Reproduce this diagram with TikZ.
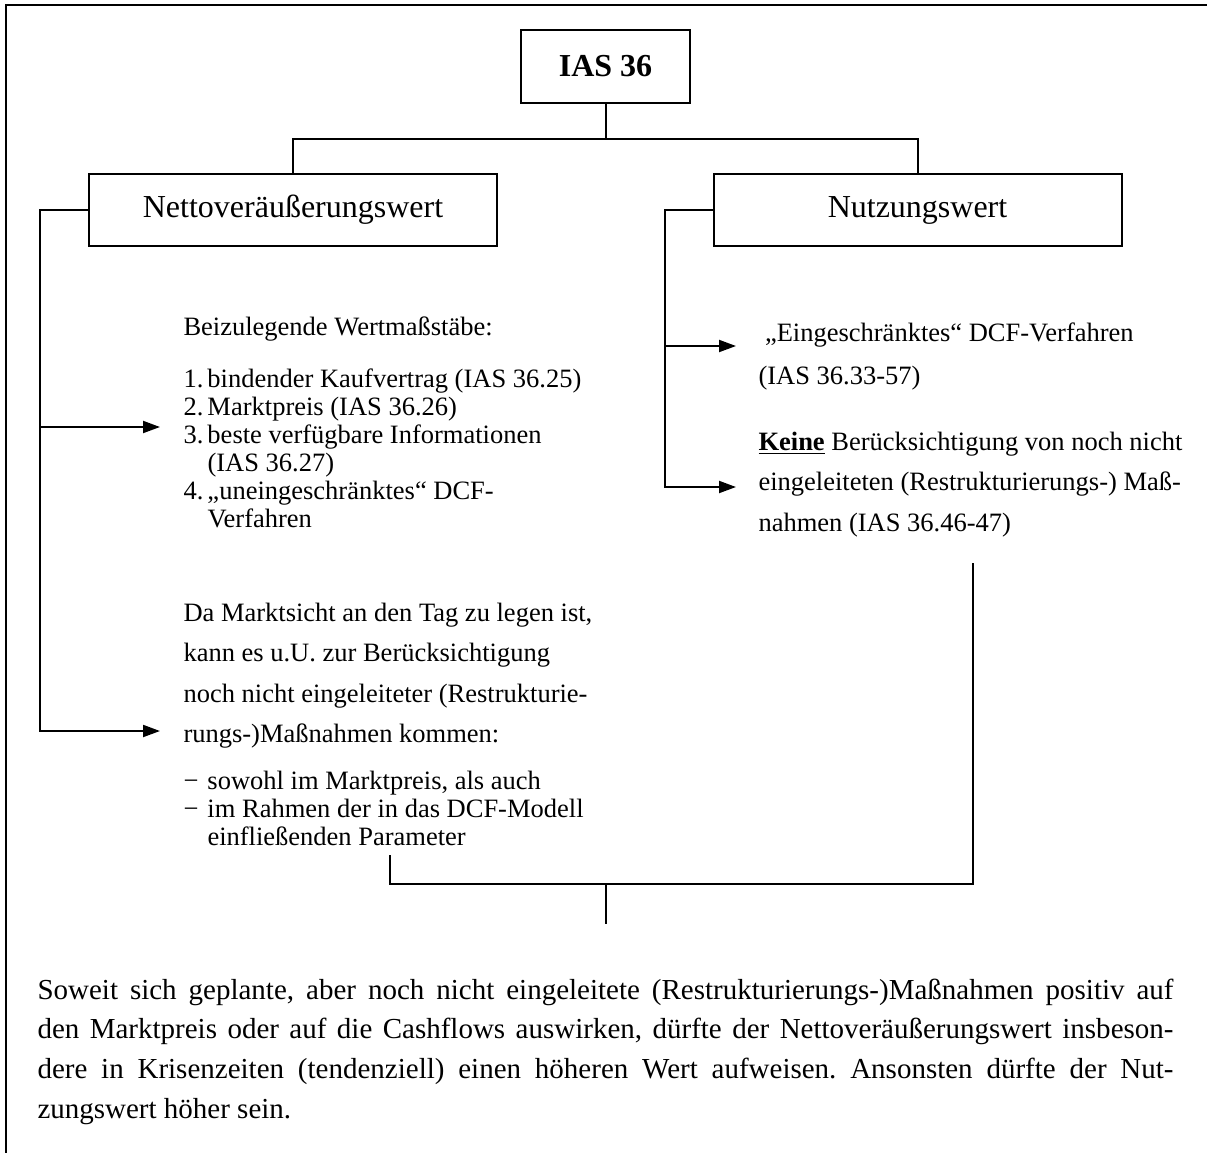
\documentclass[tikz,border=0pt]{standalone}
\usepackage{fontspec}
\setmainfont{Liberation Serif}
\usetikzlibrary{arrows.meta}
\frenchspacing
\newcommand{\kleinschrift}{\fontsize{10.6}{11.2}\selectfont}
\newcommand{\itemno}[1]{\makebox[9.6pt][l]{#1}}

\begin{document}
\begin{tikzpicture}[x=0.4pt,y=-0.4pt,
    box/.style={draw,line width=.8pt,inner sep=0pt,font=\fontsize{12.8}{15}\selectfont},
    link/.style={line width=.8pt},
    arr/.style={line width=.8pt,-{Triangle[length=6.8pt,width=4.8pt]}},
    txt/.style={inner sep=0pt,anchor=base west}]
    \useasboundingbox (0,0) rectangle (1207,1153);
    % frame, only top and left edge are visible
    \draw[line width=1pt] (6,1153) -- (6,5) -- (1207,5);
    % the three boxes
    \node[box,minimum width=67.6pt,minimum height=29.2pt] (ias) at (605.5,66.5) {\textbf{IAS 36}};
    \node[box,minimum width=163.2pt,minimum height=28.8pt] (nvw) at (293,210) {Nettoveräußerungswert};
    \node[box,minimum width=163.2pt,minimum height=28.8pt] (nw) at (917.5,210) {Nutzungswert};
    \draw[link] (ias.south) -- ++(0,35) coordinate (split);
    \draw[link] (nvw.north) |- (split) -| (nw.north);

    % left side
    \node[txt] (wert) at (183,335) {\parbox[t]{200pt}{\kleinschrift Beizulegende Wertmaßstäbe:}};
    \node[txt] (liste) at (183,387) {\parbox[t]{200pt}{\kleinschrift
        \itemno{1.}bindender Kaufvertrag (IAS 36.25)\\
        \itemno{2.}Marktpreis (IAS 36.26)\\
        \itemno{3.}beste verfügbare Informationen\\
        \itemno{}(IAS 36.27)\\
        \itemno{4.}„uneingeschränktes“ DCF-\\
        \itemno{}Verfahren}};
    \node[txt] (markt) at (183,621) {\parbox[t]{200pt}{\fontsize{10.6}{16.2}\selectfont
        Da Marktsicht an den Tag zu legen ist,\\
        kann es u.U. zur Berücksichtigung\\
        noch nicht eingeleiteter (Restrukturie-\\
        rungs-)Maßnahmen kommen:}};
    \node[txt] (punkte) at (183,789) {\parbox[t]{200pt}{\kleinschrift
        \itemno{−}sowohl im Marktpreis, als auch\\
        \itemno{−}im Rahmen der in das DCF-Modell\\
        \itemno{}einfließenden Parameter}};
    \coordinate (lt1) at (160,427);
    \coordinate (lt2) at (160,731);
    \draw[arr] (nvw.west) -- ++(-48,0) coordinate (lk) |- (lt2);
    \draw[arr] (lk |- lt1) -- (lt1);

    % right side
    \node[txt] (eing) at (758,341) {\parbox[t]{185pt}{\fontsize{10.6}{17.2}\selectfont
        \hspace*{2.6pt}„Eingeschränktes“ DCF-Verfahren\\
        (IAS 36.33-57)}};
    \node[txt] (keine) at (758,450) {\parbox[t]{185pt}{\fontsize{10.6}{16.3}\selectfont
        \underline{\textbf{Keine}} Berücksichtigung von noch nicht\\
        eingeleiteten (Restrukturierungs-) Maß-\\
        nahmen (IAS 36.46-47)}};
    \coordinate (rt1) at (736,346);
    \coordinate (rt2) at (736,487);
    \draw[arr] (nw.west) -- ++(-48,0) coordinate (rk) |- (rt2);
    \draw[arr] (rk |- rt1) -- (rt1);

    % both sides together
    \coordinate (bl) at (390,855);
    \coordinate (br) at (973,563);
    \coordinate (bm) at (606,884);
    \coordinate (be) at (606,924);
    \draw[link] (bl) |- (bm) -| (br);
    \draw[link] (bm) -- (be);
    \node[txt] (fazit) at (37,999) {\parbox[t]{454.4pt}{\fontsize{11.6}{15.9}\selectfont
        \makebox[\linewidth][s]{Soweit sich geplante, aber noch nicht eingeleitete (Restrukturierungs-)Maßnahmen positiv auf}\\
        \makebox[\linewidth][s]{den Marktpreis oder auf die Cashflows auswirken, dürfte der Nettoveräußerungswert insbeson-}\\
        \makebox[\linewidth][s]{dere in Krisenzeiten (tendenziell) einen höheren Wert aufweisen. Ansonsten dürfte der Nut-}\\
        zungswert höher sein.}};
\end{tikzpicture}
\end{document}
